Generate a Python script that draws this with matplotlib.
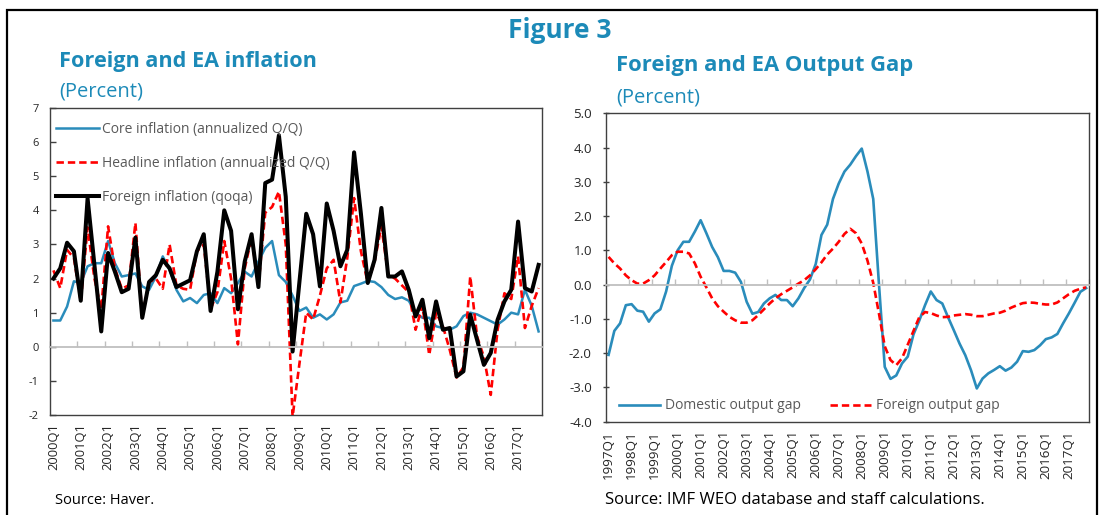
import matplotlib
matplotlib.use("Agg")
import matplotlib.pyplot as plt
from matplotlib.patches import Rectangle
import numpy as np

# ---------------- Data: left panel (2000Q1-2017Q4) ----------------
infl_quarters = [f"{y}Q{q}" for y in range(2000, 2018) for q in range(1, 5)]
infl_ticklabels = [f"{y}Q1" for y in range(2000, 2018)]

core_inflation = [
    0.77, 0.77, 1.18, 1.92, 1.87, 2.36, 2.45, 2.45, 3.10, 2.45, 2.06, 2.10,
    2.15, 1.77, 1.67, 2.06, 2.65, 2.26, 1.67, 1.33, 1.43, 1.28, 1.52, 1.57,
    1.28, 1.72, 1.57, 1.87, 2.20, 2.06, 2.50, 2.90, 3.10, 2.10, 1.90, 1.50,
    1.05, 1.15, 0.85, 0.95, 0.80, 0.95, 1.30, 1.35, 1.78, 1.85, 1.93, 1.90,
    1.75, 1.52, 1.40, 1.45, 1.35, 1.00, 0.85, 0.85, 0.60, 0.55, 0.50, 0.60,
    0.90, 1.00, 0.95, 0.85, 0.75, 0.65, 0.80, 1.00, 0.95, 1.67, 1.20, 0.45]

headline_inflation = [
    2.24, 1.72, 2.84, 2.60, 1.33, 3.50, 2.00, 1.10, 3.53, 2.30, 1.70, 1.80,
    3.63, 0.90, 1.90, 2.00, 1.70, 3.00, 1.80, 1.70, 1.67, 2.80, 3.00, 1.10,
    1.60, 3.10, 2.00, 0.07, 2.30, 3.20, 1.80, 3.93, 4.10, 4.55, 3.00, -2.05,
    -0.50, 1.00, 0.80, 1.50, 2.30, 2.55, 1.30, 2.60, 4.36, 2.80, 1.87, 2.50,
    3.53, 2.10, 2.00, 1.80, 1.60, 0.50, 1.20, -0.24, 1.00, 0.60, -0.09, -0.90,
    -0.60, 2.06, 0.30, -0.30, -1.41, 0.50, 1.57, 1.40, 2.65, 0.55, 1.20, 1.72]

foreign_inflation = [
    2.00, 2.30, 3.05, 2.80, 1.35, 4.35, 2.40, 0.45, 2.75, 2.20, 1.60, 1.70,
    3.20, 0.85, 1.90, 2.10, 2.55, 2.30, 1.75, 1.85, 1.95, 2.80, 3.30, 1.05,
    2.20, 4.00, 3.40, 1.10, 2.50, 3.30, 1.75, 4.80, 4.90, 6.20, 4.40, -0.14,
    1.90, 3.90, 3.30, 1.77, 4.20, 3.40, 2.36, 2.84, 5.70, 3.90, 1.87, 2.55,
    4.07, 2.06, 2.06, 2.21, 1.67, 0.89, 1.38, 0.25, 1.33, 0.50, 0.55, -0.87,
    -0.72, 0.94, 0.20, -0.53, -0.18, 0.79, 1.33, 1.67, 3.67, 1.72, 1.62, 2.40]

# ---------------- Data: right panel (1997Q1-2017Q4) ----------------
gap_quarters = [f"{y}Q{q}" for y in range(1997, 2018) for q in range(1, 5)]
gap_ticklabels = [f"{y}Q1" for y in range(1997, 2018)]

domestic_gap = [
    -2.05, -1.35, -1.13, -0.60, -0.57, -0.76, -0.79, -1.08, -0.84, -0.72, -0.20, 0.55,
    1.00, 1.25, 1.25, 1.55, 1.88, 1.50, 1.10, 0.80, 0.40, 0.40, 0.35, 0.08,
    -0.50, -0.85, -0.80, -0.55, -0.40, -0.30, -0.45, -0.45, -0.63, -0.40, -0.10, 0.15,
    0.60, 1.45, 1.75, 2.50, 2.95, 3.30, 3.50, 3.75, 3.97, 3.30, 2.50, 0.00,
    -2.40, -2.75, -2.65, -2.30, -2.10, -1.45, -1.05, -0.60, -0.20, -0.45, -0.55, -0.95,
    -1.33, -1.72, -2.06, -2.50, -3.03, -2.74, -2.59, -2.49, -2.38, -2.51, -2.42, -2.25,
    -1.94, -1.96, -1.91, -1.77, -1.59, -1.54, -1.44, -1.13, -0.84, -0.53, -0.21, -0.10]

foreign_gap = [
    0.81, 0.62, 0.47, 0.27, 0.13, 0.03, 0.03, 0.13, 0.27, 0.47, 0.66, 0.86,
    0.96, 0.96, 0.91, 0.62, 0.23, -0.08, -0.40, -0.63, -0.79, -0.94, -1.04, -1.11,
    -1.11, -1.04, -0.89, -0.72, -0.55, -0.40, -0.28, -0.18, -0.08, 0.03, 0.13, 0.27,
    0.45, 0.65, 0.88, 1.05, 1.25, 1.48, 1.63, 1.50, 1.20, 0.70, 0.05, -0.85,
    -1.80, -2.20, -2.35, -2.15, -1.75, -1.35, -0.95, -0.80, -0.83, -0.90, -0.95, -0.94,
    -0.90, -0.88, -0.86, -0.88, -0.92, -0.92, -0.88, -0.84, -0.82, -0.76, -0.67, -0.60,
    -0.54, -0.52, -0.53, -0.56, -0.58, -0.58, -0.52, -0.40, -0.28, -0.18, -0.12, -0.08]

# ---------------- Styling ----------------
W, H = 1104, 515
TEAL = "#1c8ab8"
BLUE = "#2a8cbb"
RED = "#ff0000"
GRAY_TXT = "#595959"
TICK_TXT = "#262626"
FRAME = "#404040"
ZERO = "#bfbfbf"
FONT = "Open Sans"

plt.rcParams["font.family"] = [FONT, "DejaVu Sans"]

fig = plt.figure(figsize=(W / 100, H / 100), dpi=100)


def fx(px):
    return px / W


def fy(py):
    return 1 - py / H


# outer border
fig.patches.append(Rectangle((fx(7), fy(522)), fx(1097) - fx(7), fy(10) - fy(522),
                             transform=fig.transFigure, fill=False,
                             edgecolor="black", linewidth=1.6))

fig.text(fx(560), fy(31), "Figure 3", ha="center", va="center",
         fontsize=19, fontweight="bold", color=TEAL)


def setup_axes(rect, cats, ticklabels, ylim, yticks, yfmt, ylab_size, xlab_size,
               ytick_dir):
    ax = fig.add_axes(rect)
    n = len(cats)
    ax.set_xlim(-0.5, n - 0.5)
    ax.set_ylim(*ylim)
    for s in ["left", "top", "right"]:
        ax.spines[s].set_color(FRAME)
        ax.spines[s].set_linewidth(1.0)
    # bottom spine acts as the category axis at zero
    ax.spines["bottom"].set_position(("data", 0))
    ax.spines["bottom"].set_color(ZERO)
    ax.spines["bottom"].set_linewidth(1.3)
    ax.set_xticks(np.arange(-0.5, n, 4))
    ax.tick_params(axis="x", direction="in", length=4, width=1.0, color=ZERO,
                   labelbottom=False)
    ax.set_yticks(yticks)
    ax.set_yticklabels([yfmt.format(v) for v in yticks])
    ax.tick_params(axis="y", direction=ytick_dir, length=4, width=1.0,
                   color=FRAME, labelsize=ylab_size, labelcolor=TICK_TXT, pad=8)
    # category labels along the bottom frame
    sec = ax.secondary_xaxis(0.0)
    sec.spines["bottom"].set_color(FRAME)
    sec.spines["bottom"].set_linewidth(1.0)
    sec.set_xticks([cats.index(t) for t in ticklabels])
    sec.set_xticklabels(ticklabels, rotation=90)
    sec.tick_params(axis="x", length=0, pad=6, labelsize=xlab_size,
                    labelcolor=TICK_TXT)
    return ax


# ---------------- Left panel ----------------
fig.text(fx(59), fy(61), "Foreign and EA inflation", ha="left", va="center",
         fontsize=15.6, fontweight="bold", color=TEAL)
fig.text(fx(59), fy(92), "(Percent)", ha="left", va="center",
         fontsize=14.5, color=TEAL)

axL = setup_axes([fx(50), fy(415), fx(542) - fx(50), fy(108) - fy(415)],
                 infl_quarters, infl_ticklabels, (-2, 7), list(range(-2, 8)),
                 "{:d}", 8, 9.3, "in")
xL = np.arange(len(infl_quarters))
axL.plot(xL, core_inflation, color=BLUE, lw=1.8, label="Core inflation (annualized Q/Q)",
         solid_joinstyle="round")
axL.plot(xL, headline_inflation, color=RED, lw=1.9, dashes=(2.8, 1.5),
         label="Headline inflation (annualized Q/Q)")
axL.plot(xL, foreign_inflation, color="black", lw=2.9, label="Foreign inflation (qoqa)",
         solid_joinstyle="round")
legL = axL.legend(loc="upper left", bbox_to_anchor=(-0.004, 0.982), frameon=False,
                  fontsize=10, handlelength=3.05, handletextpad=0.2,
                  labelspacing=1.36, borderaxespad=0.2)
for t in legL.get_texts():
    t.set_color(GRAY_TXT)

fig.text(fx(55), fy(500), "Source: Haver.", ha="left", va="center",
         fontsize=10.5, color="black")

# ---------------- Right panel ----------------
fig.text(fx(616), fy(66), "Foreign and EA Output Gap", ha="left", va="center",
         fontsize=15.8, fontweight="bold", color=TEAL)
fig.text(fx(616), fy(97), "(Percent)", ha="left", va="center",
         fontsize=14.5, color=TEAL)

axR = setup_axes([fx(605.7), fy(421.7), fx(1089) - fx(605.7), fy(113.3) - fy(421.7)],
                 gap_quarters, gap_ticklabels, (-4, 5), list(range(-4, 6)),
                 "{:.1f}", 9.5, 9.6, "inout")
xR = np.arange(len(gap_quarters))
axR.plot(xR, domestic_gap, color=BLUE, lw=1.9, label="Domestic output gap",
         solid_joinstyle="round")
axR.plot(xR, foreign_gap, color=RED, lw=1.9, dashes=(2.8, 1.5),
         label="Foreign output gap")
legR = axR.legend(loc="lower left", bbox_to_anchor=(0.01, 0.0), ncol=2, frameon=False,
                  fontsize=10, handlelength=2.95, handletextpad=0.35,
                  columnspacing=2.1, borderaxespad=0.2)
for t in legR.get_texts():
    t.set_color(GRAY_TXT)

fig.text(fx(605), fy(500), "Source: IMF WEO database and staff calculations.",
         ha="left", va="center", fontsize=12, color="black")

fig.savefig("out.png", dpi=100)
